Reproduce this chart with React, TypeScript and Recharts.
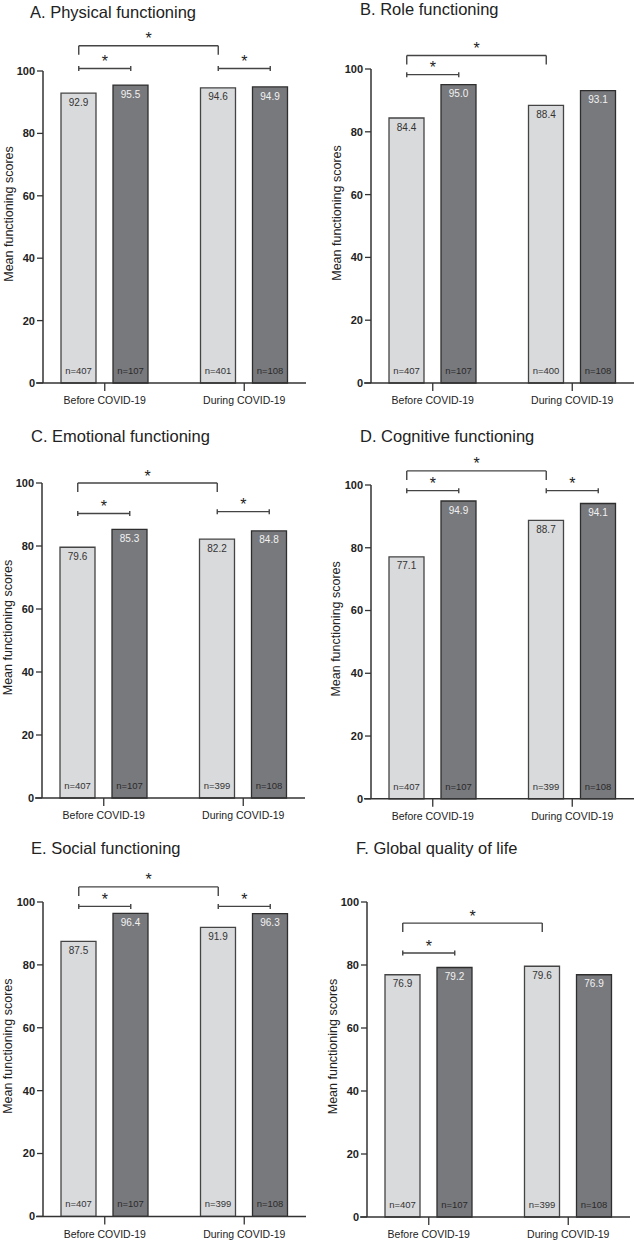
import React from "react";
import { BarChart, Bar, XAxis, YAxis, ReferenceLine, LabelList, Label } from "recharts";

const categories = ["Before COVID-19", "During COVID-19"];

const panelTitles = [
  "A. Physical functioning",
  "B. Role functioning",
  "C. Emotional functioning",
  "D. Cognitive functioning",
  "E. Social functioning",
  "F. Global quality of life",
];

// light bar = first bar of each category, dark bar = second
const lightScores = [
  [92.9, 94.6],
  [84.4, 88.4],
  [79.6, 82.2],
  [77.1, 88.7],
  [87.5, 91.9],
  [76.9, 79.6],
];
const darkScores = [
  [95.5, 94.9],
  [95.0, 93.1],
  [85.3, 84.8],
  [94.9, 94.1],
  [96.4, 96.3],
  [79.2, 76.9],
];
const lightN = [
  [407, 401],
  [407, 400],
  [407, 399],
  [407, 399],
  [407, 399],
  [407, 399],
];
const darkN = [
  [107, 108],
  [107, 108],
  [107, 108],
  [107, 108],
  [107, 108],
  [107, 108],
];

const yTicks = [0, 20, 40, 60, 80, 100];

// significance brackets: bars 0..3 = light/dark before, light/dark during; y in score units
type Bracket = { from: number; to: number; y: number; kind: "legs" | "caps" };
const brackets: Bracket[][] = [
  [
    { from: 0, to: 2, y: 108.1, kind: "legs" },
    { from: 0, to: 1, y: 100.8, kind: "caps" },
    { from: 2, to: 3, y: 100.8, kind: "caps" },
  ],
  [
    { from: 0, to: 2, y: 104.3, kind: "legs" },
    { from: 0, to: 1, y: 98.2, kind: "caps" },
  ],
  [
    { from: 0, to: 2, y: 100.0, kind: "legs" },
    { from: 0, to: 1, y: 90.3, kind: "caps" },
    { from: 2, to: 3, y: 90.9, kind: "caps" },
  ],
  [
    { from: 0, to: 2, y: 104.5, kind: "legs" },
    { from: 0, to: 1, y: 98.2, kind: "caps" },
    { from: 2, to: 3, y: 98.2, kind: "caps" },
  ],
  [
    { from: 0, to: 2, y: 104.8, kind: "legs" },
    { from: 0, to: 1, y: 98.6, kind: "caps" },
    { from: 2, to: 3, y: 98.6, kind: "caps" },
  ],
  [
    { from: 0, to: 2, y: 93.3, kind: "legs" },
    { from: 0, to: 1, y: 83.8, kind: "caps" },
  ],
];

// page layout of each panel
const frames = [
  { yAxisX: 42.5, y100: 71, y0: 383, titleX: 30, titleY: 11.7 },
  { yAxisX: 371, y100: 69.3, y0: 383.3, titleX: 360, titleY: 9.2 },
  { yAxisX: 42.3, y100: 483.3, y0: 798.3, titleX: 31, titleY: 435.5 },
  { yAxisX: 370.5, y100: 484.5, y0: 798.3, titleX: 360, titleY: 435.8 },
  { yAxisX: 43, y100: 902.3, y0: 1216.7, titleX: 31, titleY: 848 },
  { yAxisX: 367, y100: 901.7, y0: 1216.7, titleX: 356, titleY: 848 },
];

const FONT = '"Liberation Sans", Arial, Helvetica, sans-serif';
const LIGHT = "#d9dadc";
const DARK = "#78797d";
const AXIS = "#333333";
const BAR_SIZE = 35;
const BAR_GAP = 17;
const PLOT_W = 263;
const AXIS_PAD = -8;
const YAXIS_W = 42;
const TOP = 60;
const XAXIS_H = 32;

// the hidden "pos" axis runs 0..1 over the same range as the two category bands
const SPAN = PLOT_W - 2 * AXIS_PAD;
const BAND = SPAN / 2;
const SHIFT = (BAR_SIZE + BAR_GAP) / 2 / BAND;
const barPos = (i: number) => (Math.floor(i / 2) + 0.5 + (i % 2 === 0 ? -SHIFT : SHIFT)) / 2;
// x axis line starts a little left of the y axis, as in the original
const baseStart = (-AXIS_PAD - 7) / SPAN;
const baseEnd = (-AXIS_PAD + PLOT_W) / SPAN;

const renderYLabel = (props: any) => {
  const vb = props.viewBox;
  if (!vb) return null;
  const cx = vb.x + vb.width - 30.5;
  const cy = vb.y + vb.height / 2 - 13;
  return (
    <text
      x={cx}
      y={cy}
      transform={`rotate(-90 ${cx} ${cy})`}
      textAnchor="middle"
      fontSize={12.5}
      fill="#222"
      fontFamily={FONT}
    >
      Mean functioning scores
    </text>
  );
};

function Panel({ idx }: { idx: number }) {
  const f = frames[idx];
  const plotH = f.y0 - f.y100;
  const scale = plotH / 100;
  const legLen = 9 / scale;
  const capLen = 2.5 / scale;

  const data = categories.map((c, i) => ({
    category: c,
    light: lightScores[idx][i],
    dark: darkScores[idx][i],
    nLight: lightN[idx][i],
    nDark: darkN[idx][i],
  }));

  const lineProps = {
    xAxisId: "pos",
    stroke: "#444",
    strokeWidth: 1.4,
    ifOverflow: "visible" as const,
  };

  const marks: React.ReactNode[] = [];
  brackets[idx].forEach((b, k) => {
    const xa = barPos(b.from);
    const xb = barPos(b.to);
    marks.push(
      <ReferenceLine
        key={`h${k}`}
        {...lineProps}
        segment={[
          { x: xa, y: b.y },
          { x: xb, y: b.y },
        ]}
        label={{ value: "*", position: "top", offset: 1.5, fill: "#222", fontSize: 16, fontFamily: FONT }}
      />
    );
    const ends =
      b.kind === "legs"
        ? [b.y, b.y - legLen]
        : [b.y + capLen, b.y - capLen];
    [xa, xb].forEach((x, j) => {
      marks.push(
        <ReferenceLine
          key={`v${k}-${j}`}
          {...lineProps}
          segment={[
            { x, y: ends[0] },
            { x, y: ends[1] },
          ]}
        />
      );
    });
  });

  return (
    <>
      <div
        style={{
          position: "absolute",
          left: f.titleX,
          top: f.titleY - 7.8,
          fontSize: 16.5,
          lineHeight: "16px",
          fontFamily: FONT,
          color: "#222",
          whiteSpace: "nowrap",
        }}
      >
        {panelTitles[idx]}
      </div>
      <div style={{ position: "absolute", left: f.yAxisX - YAXIS_W, top: f.y100 - TOP }}>
        <BarChart
          width={YAXIS_W + PLOT_W}
          height={TOP + plotH + XAXIS_H}
          data={data}
          margin={{ top: TOP, right: 0, bottom: 0, left: 0 }}
          barSize={BAR_SIZE}
          barGap={BAR_GAP}
        >
          <XAxis
            dataKey="category"
            padding={{ left: AXIS_PAD, right: AXIS_PAD }}
            height={XAXIS_H}
            interval={0}
            tickSize={8}
            tickMargin={6}
            axisLine={false}
            tickLine={{ stroke: AXIS, strokeWidth: 1.3 }}
            tick={{ fontSize: 10.5, fill: "#222", fontFamily: FONT }}
          />
          <XAxis
            xAxisId="pos"
            type="number"
            domain={[0, 1]}
            allowDataOverflow
            hide
            padding={{ left: AXIS_PAD, right: AXIS_PAD }}
          />
          <YAxis
            domain={[0, 100]}
            ticks={yTicks}
            width={YAXIS_W}
            tickSize={6}
            tickMargin={2}
            axisLine={{ stroke: AXIS, strokeWidth: 1.5 }}
            tickLine={{ stroke: AXIS, strokeWidth: 1.3 }}
            tick={{ fontSize: 11, fontWeight: 700, fill: "#222", fontFamily: FONT }}
          >
            <Label content={renderYLabel} />
          </YAxis>
          <Bar dataKey="light" fill={LIGHT} stroke="#444" strokeWidth={1.3} isAnimationActive={false}>
            <LabelList
              dataKey="light"
              position="insideTop"
              offset={5.5}
              fill="#333"
              fontSize={10}
              fontFamily={FONT}
              formatter={(v: any) => Number(v).toFixed(1)}
            />
            <LabelList
              dataKey="nLight"
              position="insideBottom"
              offset={9}
              fill="#333"
              fontSize={9.5}
              fontFamily={FONT}
              formatter={(v: any) => `n=${v}`}
            />
          </Bar>
          <Bar dataKey="dark" fill={DARK} stroke="#2e2e2e" strokeWidth={1.3} isAnimationActive={false}>
            <LabelList
              dataKey="dark"
              position="insideTop"
              offset={5.5}
              fill="#f2f2f2"
              fontSize={10}
              fontFamily={FONT}
              formatter={(v: any) => Number(v).toFixed(1)}
            />
            <LabelList
              dataKey="nDark"
              position="insideBottom"
              offset={9}
              fill="#2a2a2a"
              fontSize={9.5}
              fontFamily={FONT}
              formatter={(v: any) => `n=${v}`}
            />
          </Bar>
          <ReferenceLine
            xAxisId="pos"
            ifOverflow="visible"
            stroke={AXIS}
            strokeWidth={1.5}
            segment={[
              { x: baseStart, y: 0 },
              { x: baseEnd, y: 0 },
            ]}
          />
          {marks}
        </BarChart>
      </div>
    </>
  );
}

export default function App() {
  return (
    <div
      style={{
        position: "absolute",
        left: 0,
        top: 0,
        width: 635,
        height: 1241,
        overflow: "hidden",
        background: "#fff",
      }}
    >
      {panelTitles.map((_, i) => (
        <Panel key={i} idx={i} />
      ))}
    </div>
  );
}
